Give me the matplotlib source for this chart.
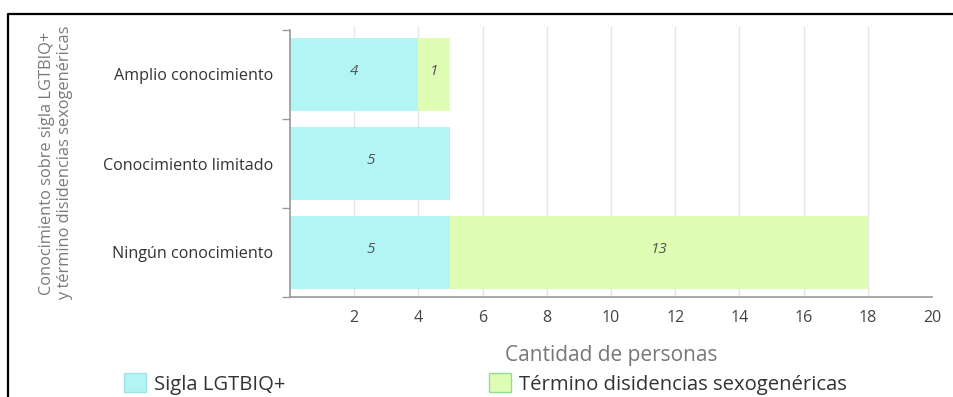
import numpy as np
import matplotlib.pyplot as plt
from matplotlib.patches import Patch
from matplotlib.lines import Line2D

## Data
categorias = ["Amplio conocimiento", "Conocimiento limitado", "Ningún conocimiento"]
sigla = [4, 5, 5]
termino = [1, 0, 13]
series = ["Sigla LGTBIQ+", "Término disidencias sexogenéricas"]

## Colours
c_sigla = "#b3f5f4"
c_termino = "#e0fdb4"

plt.rcParams['font.family'] = ['Open Sans', 'DejaVu Sans']

fig = plt.figure(figsize=(9.54, 3.97), dpi=100)
W, H = 954, 397
ax = fig.add_axes([290 / W, 1 - 297 / H, (932 - 290) / W, (297 - 30) / H])

y = np.arange(len(categorias))
ax.barh(y, sigla, height=0.83, color=c_sigla, zorder=2)
ax.barh(y, termino, left=sigla, height=0.83, color=c_termino, zorder=2)

## value labels inside the bars
for i in range(len(categorias)):
    if sigla[i] > 0:
        ax.text(sigla[i] / 2, y[i] - 0.03, str(sigla[i]), ha='center', va='center',
                style='italic', fontsize=11, color='#555555', zorder=3)
    if termino[i] > 0:
        ax.text(sigla[i] + termino[i] / 2, y[i] - 0.03, str(termino[i]), ha='center',
                va='center', style='italic', fontsize=11, color='#555555', zorder=3)

ax.set_xlim(0, 20)
ax.set_ylim(2.5, -0.5)
ax.set_xticks(np.arange(2, 21, 2))
ax.set_yticks(y)
ax.set_yticklabels(categorias)
ax.set_yticks([-0.5, 0.5, 1.5, 2.5], minor=True)

ax.tick_params(axis='x', length=0, pad=9, labelsize=11.5, labelcolor='#444444')
ax.tick_params(axis='y', which='major', length=0, pad=12, labelsize=11.6, labelcolor='#333333')
ax.tick_params(axis='y', which='minor', length=6, width=1, color='#999999')

## vertical grid
for v in np.arange(2, 19, 2):
    ax.plot([v, v], [2.5, -0.53], color='#e6e6e6', lw=1, zorder=1, clip_on=False)

for s in ['top', 'right']:
    ax.spines[s].set_visible(False)
ax.spines['left'].set_color('#999999')
ax.spines['bottom'].set_color('#999999')
ax.spines['left'].set_linewidth(1.2)
ax.spines['bottom'].set_linewidth(1.2)

ax.set_xlabel("Cantidad de personas", fontsize=15, color='#777777', labelpad=14)
fig.text(56 / W, 1 - 163 / H, "Conocimiento sobre sigla LGTBIQ+\ny término disidencias sexogenéricas",
         rotation=90, ha='center', va='center', fontsize=11.8, color='#7a7a7a',
         linespacing=1.1)

## legend
handles = [Patch(facecolor=c_sigla, edgecolor='#9fe3e3', lw=1),
           Patch(facecolor=c_termino, edgecolor='#8ee08e', lw=1)]
leg = fig.legend(handles, series, loc='center left', bbox_to_anchor=(124 / W, 1 - 384 / H),
                 ncol=2, frameon=False, fontsize=14.6, handlelength=1.1, handleheight=1.0,
                 handletextpad=0.4, columnspacing=10.0, borderaxespad=0, borderpad=0)
for t in leg.get_texts():
    t.set_color('#333333')

## frame around the figure
fig.add_artist(Line2D([8 / W, 8 / W, 1], [0, 1 - 14 / H, 1 - 14 / H],
                      transform=fig.transFigure, color='black', lw=1.6))

fig.savefig("out.png", dpi=100)
